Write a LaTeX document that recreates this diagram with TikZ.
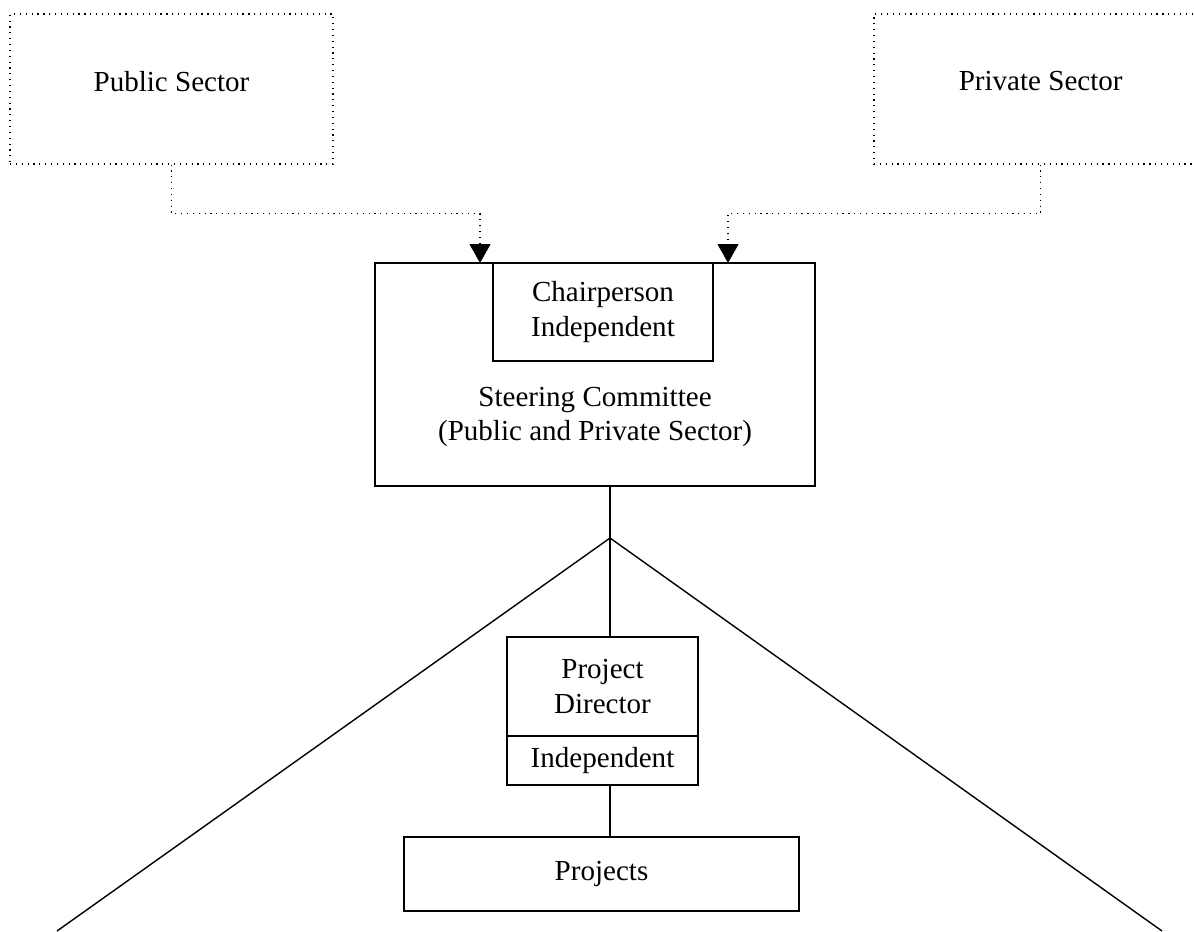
\documentclass[tikz,border=0pt]{standalone}
\usepackage{fontspec}
\setmainfont{Liberation Serif}
\usetikzlibrary{arrows.meta}

\tikzset{
  orgbox/.style={draw, line width=0.6pt, inner sep=0pt, align=center},
  sectorbox/.style={draw, dotted, line width=0.5pt, minimum width=4.845cm,
    minimum height=2.25cm, text depth=0.24cm},
  sectorlink/.style={dotted, line width=0.5pt,
    -{Triangle[width=0.315cm,length=0.285cm]}},
}

\begin{document}
\begin{tikzpicture}[font=\fontsize{12.4}{14.8}\selectfont, line width=0.6pt]
  \useasboundingbox (0,0) rectangle (17.91,-13.965);

  % the two sectors
  \node[sectorbox] (pub) at (2.5725,-1.335) {Public Sector};
  \node[sectorbox, minimum width=5.0cm] (priv) at (15.61,-1.335) {Private Sector};

  % steering committee with its chair
  \node[orgbox, minimum width=6.6cm, minimum height=3.345cm] (steer) at (8.925,-5.6175) {};
  \node[orgbox, minimum width=3.3cm, minimum height=1.47cm] (chair) at (9.045,-4.68)
    {Chairperson\\Independent};
  \node[align=center] (steertxt) at (8.925,-6.255)
    {Steering Committee\\(Public and Private Sector)};

  \coordinate (pubin) at (7.2,-3.945);
  \coordinate (privin) at (10.92,-3.945);
  \foreach \src/\dst in {pub/pubin, priv/privin} {
    \draw[sectorlink] (\src.south) -- ++(0,-0.735) -| (\dst);
  }

  % project director and projects
  \node[orgbox, minimum width=2.865cm, minimum height=1.485cm] (director) at (9.0375,-10.2975)
    {Project\\Director};
  \node[orgbox, minimum width=2.865cm, minimum height=0.735cm] (indep) at (9.0375,-11.4075)
    {Independent};
  \node[orgbox, minimum width=5.925cm, minimum height=1.11cm] (projects) at (9.0225,-13.11)
    {Projects};

  \coordinate (split) at (9.15,-8.07);
  \coordinate (lfoot) at (0.855,-13.965);
  \coordinate (rfoot) at (17.43,-13.965);

  \draw (split |- steer.south) -- (split);
  \draw (split) -- (split |- director.north);
  \draw (split |- indep.south) -- (split |- projects.north);
  \foreach \foot in {lfoot, rfoot} {
    \draw (split) -- (\foot);
  }
\end{tikzpicture}
\end{document}
